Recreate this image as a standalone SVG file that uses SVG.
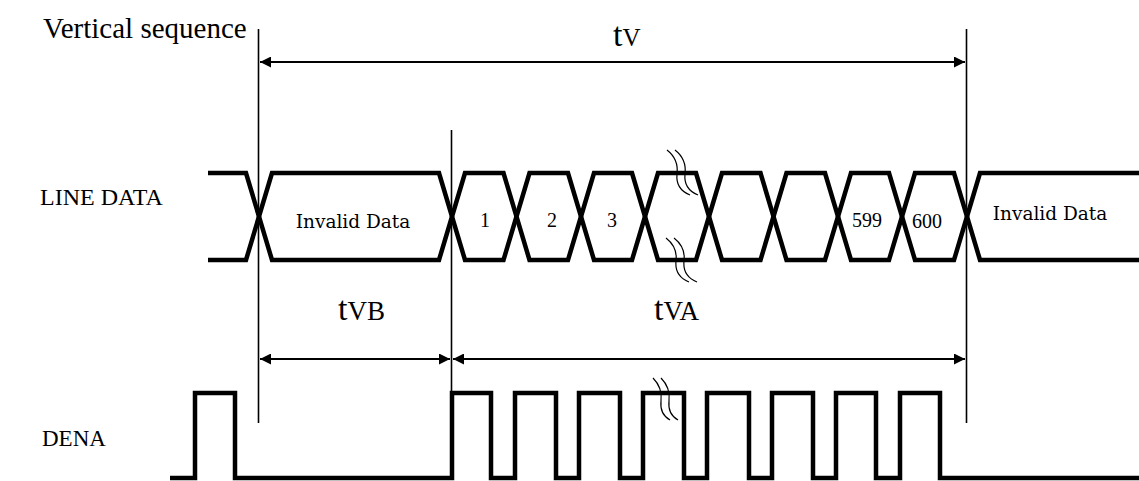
<svg xmlns="http://www.w3.org/2000/svg" width="1139" height="481" viewBox="0 0 1139 481">
<style>
.sig{fill:none;stroke:#000;stroke-width:4.5;stroke-linejoin:miter}
.vl{stroke:#000;stroke-width:1.6}
.arr{stroke:#000;stroke-width:2.2;fill:none}
.brk{fill:none;stroke:#000;stroke-width:1.2}
.lbl{font-family:"Liberation Serif","Times New Roman",serif;fill:#000}
.cell{font-family:"Liberation Serif","Times New Roman",serif;font-size:20px;fill:#000;text-anchor:middle}
.inv{font-family:"DejaVu Serif","Liberation Serif",serif;font-size:18.5px;fill:#000;text-anchor:middle}
</style>
<defs>
<marker id="ah" viewBox="0 0 10 10" refX="10" refY="5" markerWidth="6" markerHeight="5" markerUnits="strokeWidth" orient="auto-start-reverse">
<path d="M0,0 L10,5 L0,10 z" fill="#000"/>
</marker>
</defs>
<rect width="1139" height="481" fill="#fff"/>
<g id="labels">
<text class="lbl" x="43" y="38" font-size="29">Vertical sequence</text>
<text class="lbl" x="40" y="205" font-size="24">LINE DATA</text>
<text class="lbl" x="42" y="446" font-size="23">DENA</text>
</g>
<g id="connectors">
<line class="vl" x1="258.5" y1="29" x2="258.5" y2="423"/>
<line class="vl" x1="966.5" y1="29" x2="966.5" y2="423"/>
<line class="vl" x1="451.5" y1="130" x2="451.5" y2="393"/>
<line class="arr" x1="260" y1="62" x2="965" y2="62" marker-start="url(#ah)" marker-end="url(#ah)"/>
<line class="arr" x1="260" y1="359" x2="450" y2="359" marker-start="url(#ah)" marker-end="url(#ah)"/>
<line class="arr" x1="453" y1="359" x2="965" y2="359" marker-start="url(#ah)" marker-end="url(#ah)"/>
</g>
<g id="timing-labels">
<text class="lbl" x="613" y="46" font-size="34">t<tspan font-size="25">V</tspan></text>
<text class="lbl" x="338" y="320" font-size="34">t<tspan font-size="27">VB</tspan></text>
<text class="lbl" x="654" y="320" font-size="34">t<tspan font-size="27">VA</tspan></text>
</g>
<g id="line-data">
<polyline class="sig" points="208,173 246,173 272,260 439,260 465,173 503.5,173 529.5,260 568,260 594,173 632,173 658,260 696,260 722,173 760.5,173 786.5,260 825,260 851,173 889,173 915,260 954,260 980,173 1139,173"/>
<polyline class="sig" points="208,260 246,260 272,173 439,173 465,260 503.5,260 529.5,173 568,173 594,260 632,260 658,173 696,173 722,260 760.5,260 786.5,173 825,173 851,260 889,260 915,173 954,173 980,260 1139,260"/>
<text class="inv" x="353" y="228">Invalid Data</text>
<text class="cell" x="485" y="227">1</text>
<text class="cell" x="552" y="227">2</text>
<text class="cell" x="612" y="227">3</text>
<text class="cell" x="867" y="227">599</text>
<text class="cell" x="927" y="228">600</text>
<text class="inv" x="1050" y="220">Invalid Data</text>
</g>
<g id="dena">
<path class="sig" d="M170,478 H195 V393 H235 V478 H452 V393 H491 V478 H515 V393 H556 V478 H579 V393 H620 V478 H643 V393 H684 V478 H707 V393 H749 V478 H772 V393 H813 V478 H836 V393 H876 V478 H900 V393 H940 V478 H1139"/>
</g>
<g id="breaks">
<path class="brk" d="M667,150 C676,157 678,166 677,174 C676,184 680,191 690,195"/>
<path class="brk" d="M675,150 C684,157 686,166 685,174 C684,184 688,191 698,195"/>
<path class="brk" d="M666,238 C675,245 677,253 676,261 C675,271 679,278 689,282"/>
<path class="brk" d="M674,238 C683,245 685,253 684,261 C683,271 687,278 697,282"/>
<path class="brk" d="M653,378 C660,385 662,393 661,401 C660,410 663,416 670,420"/>
<path class="brk" d="M661,378 C668,385 670,393 669,401 C668,410 671,416 678,420"/>
</g>
</svg>
